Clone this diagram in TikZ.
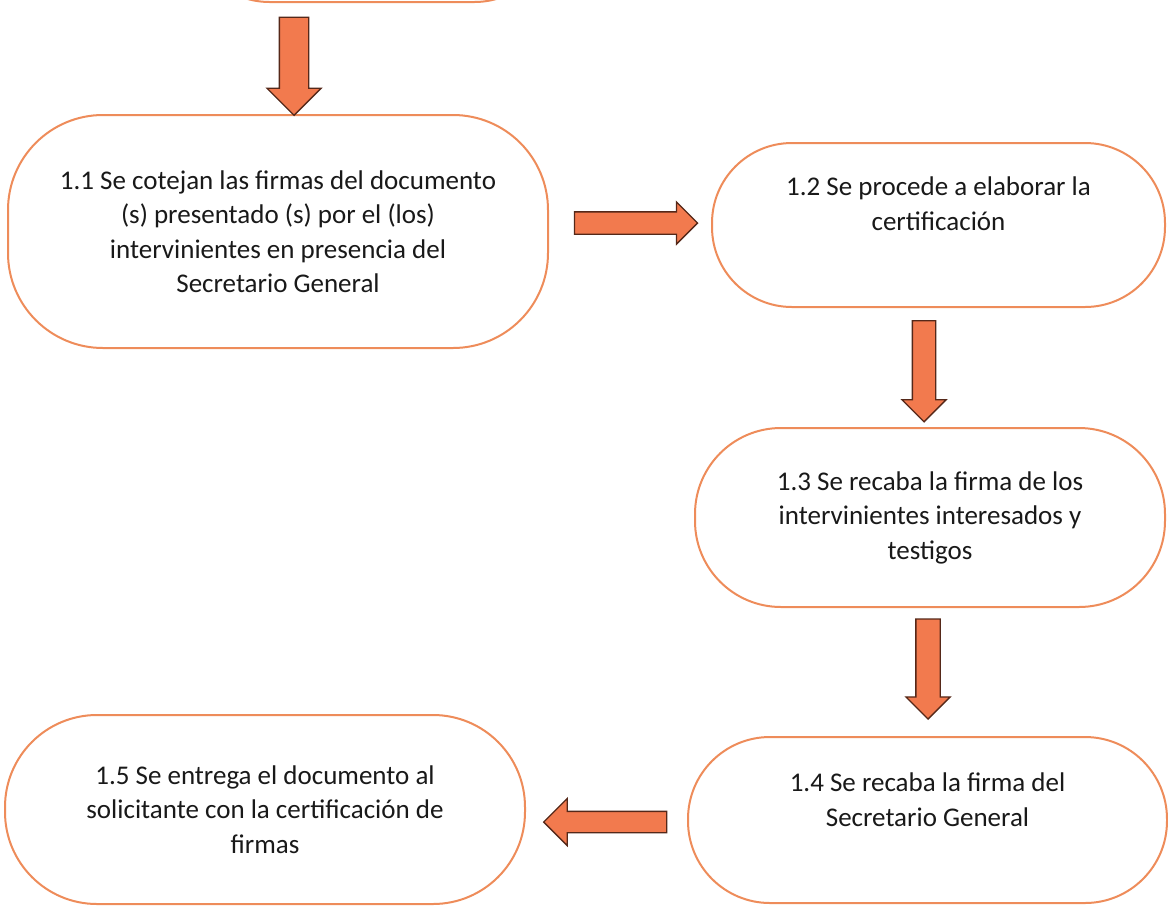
\documentclass[tikz,border=0pt]{standalone}
\usepackage{fontspec}
\setmainfont{Carlito}
\usetikzlibrary{shapes.arrows}

\definecolor{boxorange}{RGB}{238,140,90}
\definecolor{arrowfill}{RGB}{242,122,78}
\definecolor{arrowline}{RGB}{85,40,25}
\definecolor{inktext}{RGB}{25,25,25}

\begin{document}
\begin{tikzpicture}[x=1pt, y=-1pt,
    step node/.style={rectangle, draw=boxorange, line width=2pt, fill=white, align=center, text=inktext,
                      font=\fontsize{27}{34.5}\selectfont, inner sep=0pt},
    flow arrow/.style={single arrow, draw=arrowline, fill=arrowfill, line width=1.3pt,
                       single arrow tip angle=90}]

      \useasboundingbox (0,0) rectangle (1168,906);
      \clip (0,0) rectangle (1168,906);

      % boxes
      \node[step node, rounded corners=80pt, minimum width=365pt, minimum height=300pt] (0) at (372,-148) {};
      \node[step node, rounded corners=95pt, minimum width=540pt, minimum height=233pt] (1) at (278,231.5)
        {1.1 Se cotejan las firmas del documento\\(s) presentado (s) por el (los)\\intervinientes en presencia del\\Secretario General};
      \node[step node, rounded corners=80pt, minimum width=453pt, minimum height=164pt] (2) at (938.5,225)
        {1.2 Se procede a elaborar la\\certificación\\[8pt]};
      \node[step node, rounded corners=86pt, minimum width=470pt, minimum height=179pt] (3) at (930,517.5)
        {1.3 Se recaba la firma de los\\intervinientes interesados y\\testigos};
      \node[step node, rounded corners=82pt, minimum width=479pt, minimum height=166pt] (4) at (927.5,820)
        {1.4 Se recaba la firma del\\Secretario General\\[6pt]};
      \node[step node, rounded corners=92pt, minimum width=520pt, minimum height=189pt] (5) at (265,809.5)
        {1.5 Se entrega el documento al\\solicitante con la certificación de\\firmas};

      % arrows
      \node[flow arrow, inner sep=14pt, single arrow head extend=12.5pt, minimum height=98pt, shape border rotate=270] (01) at (294,59) {};
      \node[flow arrow, inner sep=10.5pt, single arrow head extend=10pt, minimum height=123pt] (12) at (630.5,223) {};
      \node[flow arrow, inner sep=11pt, single arrow head extend=10.5pt, minimum height=101pt, shape border rotate=270] (23) at (924,365.5) {};
      \node[flow arrow, inner sep=11.5pt, single arrow head extend=10pt, minimum height=100pt, shape border rotate=270] (34) at (928,663) {};
      \node[flow arrow, inner sep=10pt, single arrow head extend=13pt, minimum height=123pt, shape border rotate=180] (45) at (610.5,822) {};

\end{tikzpicture}
\end{document}
